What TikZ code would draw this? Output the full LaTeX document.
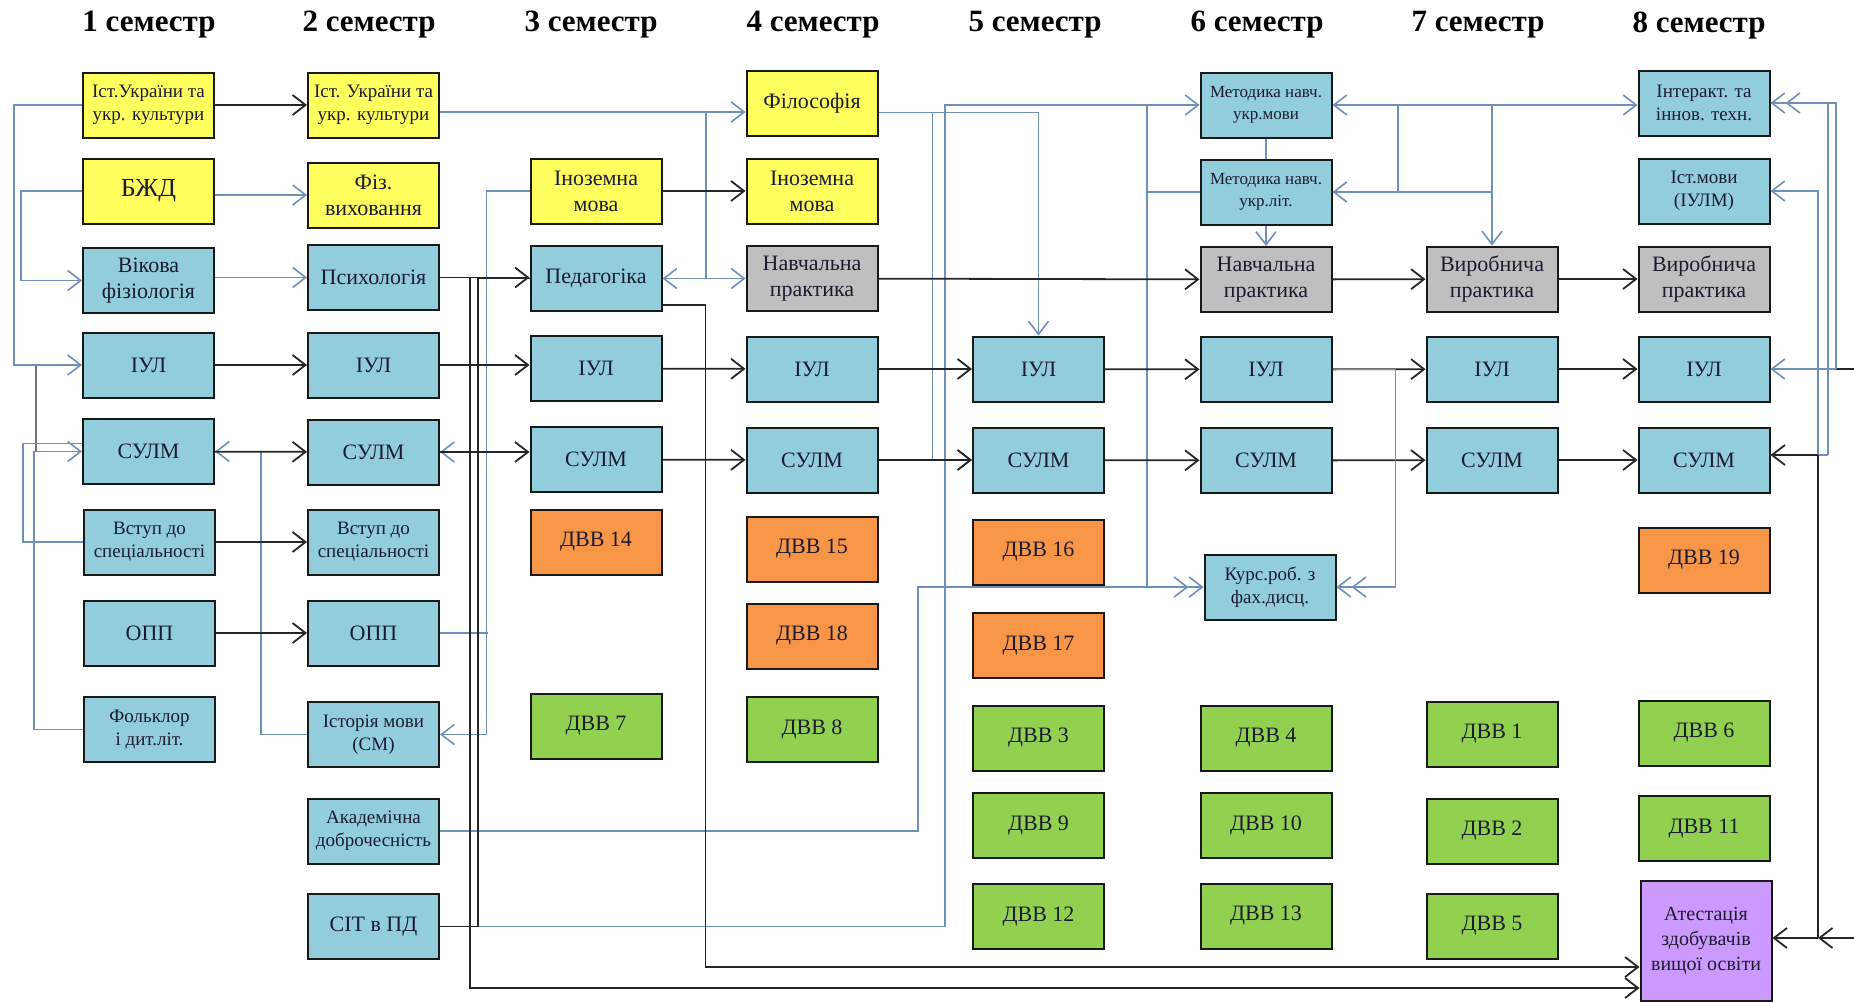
\documentclass[tikz,border=0pt]{standalone}
\usepackage{fontspec}
\setmainfont{Liberation Serif}
\usetikzlibrary{arrows.meta}
\definecolor{yelfill}{HTML}{FFFF5E}
\definecolor{blufill}{HTML}{92CDDC}
\definecolor{gryfill}{HTML}{BFBFBF}
\definecolor{orgfill}{HTML}{F79646}
\definecolor{grnfill}{HTML}{92D050}
\definecolor{viofill}{HTML}{CC99FF}
\definecolor{linkblue}{HTML}{6F90B8}
\definecolor{txt}{HTML}{1C1C30}
\tikzset{
	subj/.style={draw=black!90, line width=2pt, minimum width=131pt, minimum height=65pt, inner sep=1pt, align=center, text=txt},
	yel/.style={subj, fill=yelfill},
	blu/.style={subj, fill=blufill},
	gry/.style={subj, fill=gryfill},
	org/.style={subj, fill=orgfill},
	grn/.style={subj, fill=grnfill},
	vio/.style={subj, fill=viofill},
	smtxt/.style={font=\fontsize{19}{23}\selectfont},
	sem/.style={font=\fontsize{31}{35}\selectfont\bfseries, text=black},
	blk/.style={draw=black!85, line width=1.8pt, -{Straight Barb[length=13pt,width=20pt]}},
	lnk/.style={draw=linkblue, line width=1.6pt, -{Straight Barb[length=13pt,width=20pt]}},
	dbl/.style={-{Straight Barb[length=13pt,width=20pt] Straight Barb[length=13pt,width=20pt]}},
	both/.style={{Straight Barb[length=13pt,width=20pt]}-{Straight Barb[length=13pt,width=20pt]}}
}
\begin{document}
\begin{tikzpicture}[x=1pt, y=-1pt]
	\useasboundingbox[fill=white] (0,0) rectangle (1854,1001);
	\begin{scope}[every node/.append style={font=\fontsize{22}{26}\selectfont}]
		\node[sem] (s1) at (149,25) {1 семестр};
		\node[sem] (s2) at (369,25) {2 семестр};
		\node[sem] (s3) at (591,25) {3 семестр};
		\node[sem] (s4) at (813,25) {4 семестр};
		\node[sem] (s5) at (1035,25) {5 семестр};
		\node[sem] (s6) at (1257,25) {6 семестр};
		\node[sem] (s7) at (1478,25) {7 семестр};
		\node[sem] (s8) at (1699,25) {8 семестр};

		\node[yel, smtxt] (ist1) at (148.5,105) {Іст.України та\\укр. культури};
		\node[yel, font=\fontsize{26}{30}\selectfont] (bzhd1) at (148.5,191) {БЖД};
		\node[blu] (vik1) at (148.5,280.5) {Вікова\\фізіологія};
		\node[blu] (iul1) at (148.5,365) {ІУЛ};
		\node[blu] (sulm1) at (148.5,451.5) {СУЛМ};
		\node[blu, smtxt] (vstup1) at (149.5,542) {Вступ до\\спеціальності};
		\node[blu] (opp1) at (149.5,633) {ОПП};
		\node[blu, smtxt] (folk1) at (149.5,729.5) {Фольклор\\і дит.літ.};

		\node[yel, smtxt] (ist2) at (373.5,105) {Іст. України та\\укр. культури};
		\node[yel] (fiz2) at (373.5,195) {Фіз.\\виховання};
		\node[blu] (psych2) at (373.5,277.5) {Психологія};
		\node[blu] (iul2) at (373.5,365) {ІУЛ};
		\node[blu] (sulm2) at (373.5,452) {СУЛМ};
		\node[blu, smtxt] (vstup2) at (373.5,542) {Вступ до\\спеціальності};
		\node[blu] (opp2) at (373.5,633) {ОПП};
		\node[blu, smtxt] (istm2) at (373.5,734.5) {Історія мови\\(СМ)};
		\node[blu, smtxt] (akad2) at (373.5,831) {Академічна\\доброчесність};
		\node[blu] (sit2) at (373.5,926.5) {СІТ в ПД};

		\node[yel] (inoz3) at (596,191) {Іноземна\\мова};
		\node[blu] (ped3) at (596,278.5) {Педагогіка};
		\node[blu] (iul3) at (596,368.5) {ІУЛ};
		\node[blu] (sulm3) at (596,459.5) {СУЛМ};
		\node[org] (dvv14) at (596,542) {ДВВ 14};
		\node[grn] (dvv7) at (596,726) {ДВВ 7};

		\node[yel] (fil4) at (812,103.5) {Філософія};
		\node[yel] (inoz4) at (812,191) {Іноземна\\мова};
		\node[gry] (nav4) at (812,278.5) {Навчальна\\практика};
		\node[blu] (iul4) at (812,369) {ІУЛ};
		\node[blu] (sulm4) at (812,460) {СУЛМ};
		\node[org] (dvv15) at (812,549) {ДВВ 15};
		\node[org] (dvv18) at (812,636) {ДВВ 18};
		\node[grn] (dvv8) at (812,729.5) {ДВВ 8};

		\node[blu] (iul5) at (1038.5,369) {ІУЛ};
		\node[blu] (sulm5) at (1038.5,460) {СУЛМ};
		\node[org] (dvv16) at (1038.5,552) {ДВВ 16};
		\node[org] (dvv17) at (1038.5,645.5) {ДВВ 17};
		\node[grn] (dvv3) at (1038.5,738) {ДВВ 3};
		\node[grn] (dvv9) at (1038.5,825.5) {ДВВ 9};
		\node[grn] (dvv12) at (1038.5,916.5) {ДВВ 12};

		\node[blu, font=\fontsize{17}{22}\selectfont] (metm6) at (1266,105) {Методика навч.\\укр.мови};
		\node[blu, font=\fontsize{17}{22}\selectfont] (metl6) at (1266,192) {Методика навч.\\укр.літ.};
		\node[gry] (nav6) at (1266,279.5) {Навчальна\\практика};
		\node[blu] (iul6) at (1266,369.5) {ІУЛ};
		\node[blu] (sulm6) at (1266,460.5) {СУЛМ};
		\node[blu, smtxt] (kurs6) at (1270,587) {Курс.роб. з\\фах.дисц.};
		\node[grn] (dvv4) at (1266,738) {ДВВ 4};
		\node[grn] (dvv10) at (1266,825.5) {ДВВ 10};
		\node[grn] (dvv13) at (1266,916) {ДВВ 13};

		\node[gry] (vyr7) at (1492,279) {Виробнича\\практика};
		\node[blu] (iul7) at (1492,369) {ІУЛ};
		\node[blu] (sulm7) at (1492,460) {СУЛМ};
		\node[grn] (dvv1) at (1492,734) {ДВВ 1};
		\node[grn] (dvv2) at (1492,831) {ДВВ 2};
		\node[grn] (dvv5) at (1492,926) {ДВВ 5};

		\node[blu, smtxt] (int8) at (1704,103) {Інтеракт. та\\іннов. техн.};
		\node[blu, smtxt] (istm8) at (1704,191) {Іст.мови\\(ІУЛМ)};
		\node[gry] (vyr8) at (1704,279) {Виробнича\\практика};
		\node[blu] (iul8) at (1704,369) {ІУЛ};
		\node[blu] (sulm8) at (1704,460) {СУЛМ};
		\node[org] (dvv19) at (1704,560) {ДВВ 19};
		\node[grn] (dvv6) at (1704,733) {ДВВ 6};
		\node[grn] (dvv11) at (1704,828.5) {ДВВ 11};
		\node[vio, font=\fontsize{20}{25}\selectfont, minimum height=120pt] (atest8) at (1706,941) {Атестація\\здобувачів\\вищої освіти};
	\end{scope}

	\coordinate (l1) at (36,365);
	\coordinate (j1) at (706,112);
	\coordinate (j2) at (1147,105);
	\coordinate (j3) at (1492,105);
	\coordinate (j4) at (1398,105);
	\coordinate (rin1) at (1854,369);
	\coordinate (rin2) at (1854,938);
	\coordinate (r1) at (1836,369);
	\coordinate (r2) at (1828,455);
	\coordinate (r3) at (1818,455);

	\draw[lnk] (ist1.west) -- ++(-68,0) |- (iul1.west);
	\draw[lnk] (folk1.west) -- ++(-49,0) |- (sulm1.west);
	\draw[draw=black!55, line width=2.6pt] (l1) -- (l1 |- sulm1.west);
	\draw[lnk] (bzhd1.west) -- ++(-61,0) |- (vik1.west);
	\draw[lnk, -] (vstup1.west) -- ++(-60,0) |- ([yshift=8pt]sulm1.west);
	\draw[lnk] (bzhd1.east |- fiz2) -- (fiz2);
	\draw[lnk] (vik1.east |- psych2) -- (psych2);
	\draw[lnk] (istm2.west) -- ++(-46,0) |- (sulm1.east);
	\draw[lnk] (inoz3.west) -- ++(-43,0) |- (sulm2.east);
	\draw[lnk] (inoz3.west) -- ++(-43,0) |- (istm2.east);
	\draw[lnk, -] (opp2.east) -- ++(48,0);

	\draw[lnk] ([yshift=-7pt]ist2.east) -- ([yshift=-7pt]ist2.east -| fil4.west);
	\draw[lnk] (j1) |- (ped3.east);
	\draw[lnk] (j1) |- (nav4.west);
	\draw[lnk] ([yshift=-9pt]fil4.east) -| (iul5.north);
	\draw[lnk] ([yshift=-9pt]fil4.east) -- ++(54,0) |- (sulm5.west);
	\draw[lnk] (sit2.east) -- ++(505,0) |- (metm6.west);
	\draw[lnk, dbl] (akad2.east) -- ++(478,0) |- (kurs6.west);
	\draw[lnk, -] (j2) -- (j2 |- kurs6.west);
	\draw[lnk, -] (j2 |- metl6) -- (metl6.west);

	\draw[lnk, both] (metm6.east) -- (metm6.east -| int8.west);
	\draw[lnk] (j3) |- (metl6.east);
	\draw[lnk] (j3) -- (vyr7.north);
	\draw[lnk, -] (j4) -- (j4 |- metl6);
	\draw[lnk, -] (metm6) -- (metl6);
	\draw[lnk] (metl6) -- (nav6);

	\draw[blk] (ist1) -- (ist2);
	\draw[blk] (iul1) -- (iul2);
	\draw[blk] (sulm1) -- (sulm2);
	\draw[blk] (vstup1) -- (vstup2);
	\draw[blk] (opp1) -- (opp2);
	\draw[blk] (psych2.east) -- (psych2.east -| ped3.west);
	\draw[blk] (iul2.east) -- (iul2.east -| iul3.west);
	\draw[blk] (sulm2.east) -- (sulm2.east -| sulm3.west);
	\draw[blk] (inoz3) -- (inoz4);
	\draw[blk] (iul3) -- (iul4);
	\draw[blk] (sulm3) -- (sulm4);
	\draw[blk] (nav4) -- (nav6);
	\draw[blk] (iul4) -- (iul5);
	\draw[blk] (sulm4) -- (sulm5);
	\draw[blk] (iul5) -- (iul6);
	\draw[blk] (sulm5) -- (sulm6);
	\draw[blk] (nav6) -- (vyr7);
	\draw[blk] (iul6) -- (iul7);
	\draw[blk] (sulm6) -- (sulm7);
	\draw[blk] (vyr7) -- (vyr8);
	\draw[blk] (iul7) -- (iul8);
	\draw[blk] (sulm7) -- (sulm8);
	\draw[blk] (psych2.east) -- ++(30,0) |- ([yshift=-47pt]atest8.west);
	\draw[blk] ([yshift=-26.5pt]ped3.east) -- ++(43,0) |- ([yshift=-26pt]atest8.west);
	\draw[blk, -] (sit2.east) -- ++(38,0) |- (ped3.west);

	\draw[lnk, dbl] (iul6.east) -- ++(63,0) |- (kurs6.east);

	\draw[blk, -] (rin1) -- (r1);
	\draw[lnk] (r1) -- (iul8.east);
	\draw[lnk, dbl] (r1) |- (int8.east);
	\draw[lnk, -] (r2) |- (int8.east);
	\draw[lnk, -] (r2) -- (r3);
	\draw[lnk] (r3) |- (istm8.east);
	\draw[blk] (r3) -- (r3 -| sulm8.east);
	\draw[blk, -] (r3) -- (r3 |- rin2);
	\draw[blk] (rin2) -- (r3 |- rin2);
	\draw[blk] (r3 |- rin2) -- (rin2 -| atest8.east);
\end{tikzpicture}
\end{document}
